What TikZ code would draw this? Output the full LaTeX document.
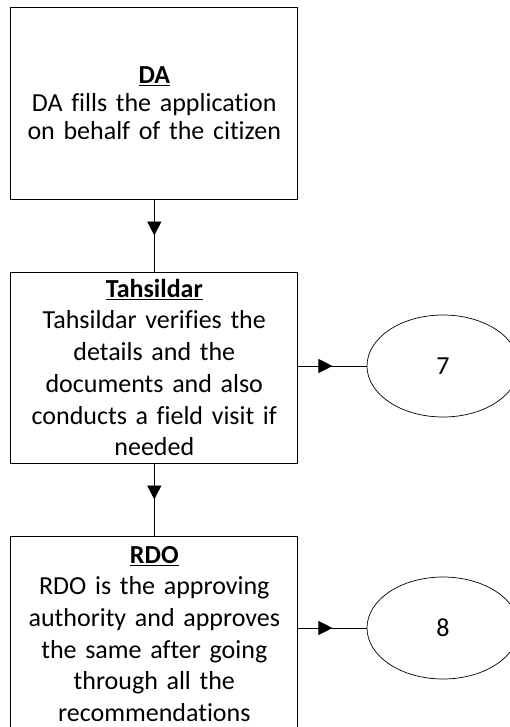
\documentclass[tikz,border=0pt]{standalone}
\usepackage{fontspec}
\setmainfont{Carlito}[Ligatures={NoCommon,NoContextual}]
\usetikzlibrary{arrows.meta,decorations.markings,shapes.geometric}
\begin{document}
\begin{tikzpicture}[x=1pt,y=-1pt,
  box/.style={draw=black, line width=0.9pt, minimum width=287pt, inner sep=0pt, align=center, text width=285pt},
  oval/.style={draw=black, line width=0.7pt, ellipse, minimum width=152pt, minimum height=102pt, inner sep=0pt},
  midarrow/.style={line width=0.9pt, postaction=decorate, decoration={markings, mark=at position 0.5 with {\arrow{Triangle[length=14pt,width=14pt]}}}},
  big/.style={font=\fontsize{26}{31.7}\selectfont}]
\clip (0,0) rectangle (510,727);
\fill[white] (0,0) rectangle (510,727);
\node[box, big, minimum height=191.5pt, font=\fontsize{26}{28}\selectfont] (b1) at (154.3,103.3)
  {\underline{\textbf{DA}}\\DA fills the application\\on behalf of the citizen};
\node[box, big, minimum height=191pt] (b2) at (154.3,367.5)
  {\underline{\textbf{Tahsildar}}\\Tahsildar verifies the\\details and the\\documents and also\\conducts a field visit if\\needed};
\node[box, big, minimum height=196pt] (b3) at (154.3,634)
  {\underline{\textbf{RDO}}\\RDO is the approving\\authority and approves\\the same after going\\through all the\\recommendations};
\node[oval, big] (e7) at (443,366) {7};
\node[oval, big] (e8) at (443,628) {8};
\draw[midarrow] (b1.south) -- (b2.north);
\draw[midarrow] (b2.south) -- (b3.north);
\draw[midarrow] (b2.east |- e7.west) -- (e7.west);
\draw[midarrow] (b3.east |- e8.west) -- (e8.west);
\end{tikzpicture}
\end{document}
